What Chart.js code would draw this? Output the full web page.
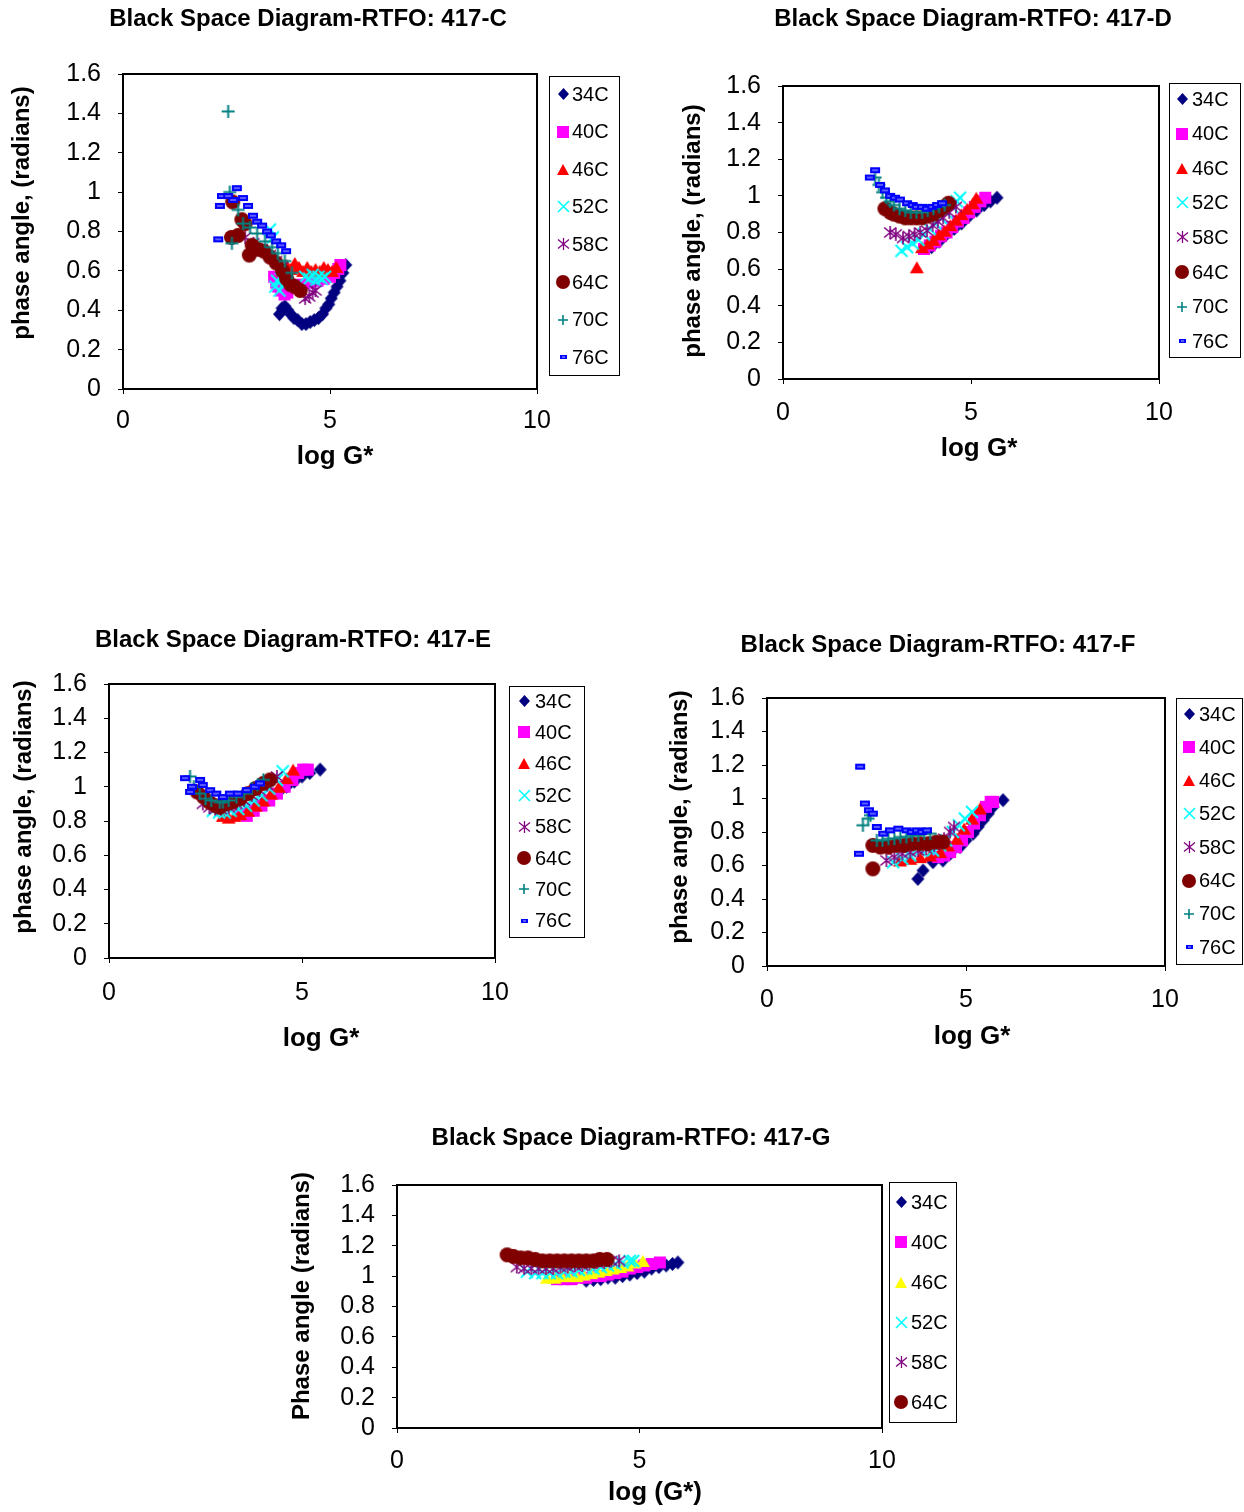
<!DOCTYPE html>
<html><head><meta charset="utf-8">
<script src="https://cdn.jsdelivr.net/npm/chart.js@4/dist/chart.umd.min.js"></script>
<style>
html,body{margin:0;padding:0;background:#fff;}
body{width:1244px;height:1512px;position:relative;overflow:hidden;}
canvas{position:absolute;}
</style></head><body>
<canvas id="cC" width="622" height="495" style="left:0px;top:0px"></canvas>
<canvas id="cD" width="622" height="495" style="left:622px;top:0px"></canvas>
<canvas id="cE" width="600" height="470" style="left:0px;top:600px"></canvas>
<canvas id="cF" width="644" height="470" style="left:600px;top:600px"></canvas>
<canvas id="cG" width="750" height="412" style="left:250px;top:1100px"></canvas>
<script>
// ---------- data ----------
const names8 = ['34C','40C','46C','52C','58C','64C','70C','76C'];
const names6 = ['34C','40C','46C','52C','58C','64C'];
const xTicks = [0,5,10];
const yTicks = [0,0.2,0.4,0.6,0.8,1,1.2,1.4,1.6];
const titles = ['Black Space Diagram-RTFO: 417-C','Black Space Diagram-RTFO: 417-D','Black Space Diagram-RTFO: 417-E','Black Space Diagram-RTFO: 417-F','Black Space Diagram-RTFO: 417-G'];

// 417-C
const C_34C = [[3.78,0.38],[3.84,0.41],[3.91,0.42],[3.98,0.40],[4.05,0.38],[4.13,0.36],[4.22,0.35],[4.32,0.33],[4.42,0.33],[4.52,0.34],[4.62,0.35],[4.72,0.36],[4.82,0.38],[4.9,0.41],[4.97,0.43],[5.03,0.46],[5.1,0.49],[5.17,0.52],[5.24,0.55],[5.31,0.59],[5.38,0.63]];
const C_40C = [[3.65,0.57],[3.7,0.54],[3.75,0.52],[3.82,0.5],[3.9,0.48],[3.97,0.49],[4.1,0.52],[4.3,0.53],[4.5,0.54],[4.7,0.55],[4.85,0.56],[5.0,0.57],[5.1,0.59],[5.2,0.61],[5.25,0.63]];
const C_46C = [[3.85,0.6],[3.95,0.63],[4.05,0.61],[4.15,0.64],[4.25,0.62],[4.35,0.6],[4.45,0.62],[4.55,0.6],[4.65,0.61],[4.75,0.6],[4.85,0.62],[4.95,0.61],[5.05,0.6],[5.15,0.62]];
const C_52C = [[3.55,0.81],[3.62,0.77],[3.68,0.52],[3.72,0.55],[3.78,0.5],[3.82,0.56],[3.88,0.53],[3.95,0.55],[4.4,0.57],[4.5,0.56],[4.58,0.58],[4.65,0.55],[4.72,0.57],[4.8,0.56],[4.88,0.57]];
const C_58C = [[2.95,0.77],[3.15,0.74],[3.35,0.71],[3.55,0.68],[3.7,0.65],[3.85,0.62],[4.4,0.46],[4.5,0.47],[4.58,0.49],[4.65,0.5]];
const C_64C = [[2.65,0.95],[2.62,0.77],[2.78,0.78],[2.87,0.86],[2.95,0.84],[3.05,0.68],[3.12,0.73],[3.25,0.71],[3.4,0.7],[3.55,0.67],[3.7,0.64],[3.85,0.6],[3.95,0.56],[4.05,0.53],[4.15,0.52],[4.28,0.5]];
const C_70C = [[2.54,1.41],[2.58,1.0],[2.78,0.91],[2.63,0.74],[2.9,0.84],[3.07,0.82],[3.24,0.79],[3.43,0.75],[3.6,0.72],[3.74,0.69],[3.91,0.65],[4.08,0.59]];
const C_76C = [[2.3,0.76],[2.34,0.93],[2.39,0.98],[2.54,0.98],[2.66,0.96],[2.75,1.02],[2.9,0.97],[3.02,0.93],[3.14,0.88],[3.24,0.85],[3.36,0.83],[3.48,0.8],[3.57,0.78],[3.7,0.75],[3.82,0.73],[3.94,0.7]];

// 417-D
const D_34C = [[3.95,0.72],[4.15,0.75],[4.35,0.79],[4.55,0.82],[4.75,0.85],[4.95,0.89],[5.15,0.92],[5.35,0.95],[5.52,0.97],[5.69,0.99]];
const D_40C = [[3.75,0.71],[3.9,0.73],[4.05,0.75],[4.2,0.78],[4.35,0.8],[4.5,0.83],[4.65,0.86],[4.8,0.88],[4.95,0.91],[5.1,0.94],[5.25,0.97],[5.38,0.99]];
const D_46C = [[3.56,0.61],[3.7,0.72],[3.85,0.74],[4.0,0.76],[4.15,0.79],[4.3,0.81],[4.45,0.84],[4.6,0.87],[4.75,0.9],[4.9,0.93],[5.05,0.96],[5.14,0.99]];
const D_52C = [[3.15,0.7],[3.3,0.72],[3.45,0.74],[3.6,0.76],[3.75,0.79],[3.9,0.82],[4.05,0.85],[4.2,0.88],[4.35,0.91],[4.5,0.94],[4.62,0.97],[4.71,0.99]];
const D_58C = [[2.85,0.8],[3.0,0.79],[3.19,0.77],[3.35,0.78],[3.5,0.79],[3.65,0.8],[3.83,0.81],[3.98,0.84],[4.12,0.86],[4.26,0.88],[4.42,0.91],[4.6,0.94]];
const D_64C = [[2.71,0.93],[2.85,0.91],[2.95,0.9],[3.1,0.89],[3.25,0.88],[3.4,0.88],[3.55,0.88],[3.7,0.88],[3.85,0.89],[4.0,0.9],[4.15,0.92],[4.28,0.94],[4.4,0.96]];
const D_70C = [[2.45,1.1],[2.55,1.06],[2.65,1.02],[2.75,0.99],[2.85,0.97],[2.95,0.95],[3.1,0.93],[3.25,0.92],[3.4,0.91],[3.55,0.91],[3.7,0.91],[3.85,0.92],[4.0,0.93],[4.15,0.94],[4.3,0.95]];
const D_76C = [[2.45,1.14],[2.31,1.1],[2.58,1.06],[2.71,1.03],[2.85,1.0],[2.98,0.99],[3.11,0.98],[3.3,0.96],[3.45,0.95],[3.56,0.94],[3.7,0.94],[3.83,0.93],[3.97,0.94],[4.1,0.95],[4.23,0.96]];

// 417-E
const E_34C = [[3.6,0.86],[3.8,0.88],[4.0,0.91],[4.2,0.94],[4.4,0.97],[4.6,1.0],[4.8,1.03],[5.0,1.06],[5.2,1.08],[5.47,1.1]];
const E_40C = [[3.4,0.84],[3.57,0.83],[3.75,0.86],[3.95,0.89],[4.15,0.92],[4.35,0.96],[4.55,1.0],[4.75,1.04],[4.9,1.08],[5.03,1.1],[5.15,1.1]];
const E_46C = [[2.95,0.83],[3.1,0.82],[3.25,0.83],[3.4,0.84],[3.6,0.86],[3.8,0.89],[4.0,0.92],[4.2,0.96],[4.4,1.0],[4.6,1.05],[4.77,1.1]];
const E_52C = [[2.69,0.86],[2.85,0.85],[3.0,0.85],[3.15,0.86],[3.35,0.87],[3.55,0.89],[3.75,0.92],[3.95,0.95],[4.15,0.99],[4.35,1.04],[4.5,1.09]];
const E_58C = [[2.43,0.9],[2.6,0.88],[2.75,0.87],[2.9,0.87],[3.1,0.88],[3.3,0.9],[3.5,0.92],[3.7,0.95],[3.9,0.98],[4.1,1.01],[4.35,1.06]];
const E_64C = [[2.28,0.97],[2.45,0.94],[2.6,0.91],[2.75,0.89],[2.87,0.88],[3.05,0.9],[3.2,0.91],[3.4,0.93],[3.6,0.96],[3.8,0.99],[4.0,1.02],[4.17,1.04]];
const E_70C = [[2.1,1.06],[2.2,1.0],[2.35,0.96],[2.5,0.93],[2.65,0.92],[2.87,0.91],[2.95,0.91],[3.1,0.92],[3.3,0.94],[3.5,0.96],[3.7,0.99],[3.85,1.01],[4.0,1.04]];
const E_76C = [[1.97,1.05],[2.1,0.97],[2.15,1.0],[2.36,1.04],[2.43,1.01],[2.62,0.98],[2.78,0.96],[2.95,0.94],[3.13,0.96],[3.34,0.96],[3.57,0.98],[3.78,1.0],[3.91,1.02]];

// 417-F
const F_34C = [[3.79,0.52],[3.92,0.57],[4.17,0.62],[4.42,0.63],[4.6,0.67],[4.85,0.71],[5.0,0.75],[5.18,0.79],[5.3,0.83],[5.43,0.87],[5.56,0.91],[5.68,0.95],[5.93,0.99]];
const F_40C = [[4.3,0.65],[4.45,0.66],[4.6,0.68],[4.75,0.71],[4.9,0.75],[5.05,0.8],[5.2,0.85],[5.35,0.9],[5.5,0.95],[5.62,0.98],[5.68,0.98]];
const F_46C = [[3.34,0.63],[3.6,0.64],[3.85,0.65],[4.1,0.66],[4.35,0.68],[4.55,0.72],[4.77,0.76],[4.95,0.82],[5.15,0.88],[5.35,0.94]];
const F_52C = [[3.17,0.62],[3.4,0.64],[3.6,0.66],[3.85,0.69],[4.05,0.7],[4.17,0.69],[4.35,0.72],[4.5,0.75],[4.67,0.8],[4.82,0.84],[4.97,0.88],[5.15,0.92]];
const F_58C = [[3.0,0.63],[3.2,0.65],[3.4,0.67],[3.6,0.68],[3.8,0.69],[4.0,0.7],[4.2,0.72],[4.45,0.76],[4.6,0.8],[4.7,0.83]];
const F_64C = [[2.66,0.58],[2.66,0.72],[2.85,0.71],[3.05,0.71],[3.25,0.72],[3.45,0.72],[3.65,0.73],[3.85,0.73],[4.05,0.73],[4.25,0.74],[4.42,0.74]];
const F_70C = [[2.41,0.84],[2.54,0.88],[2.6,0.9],[2.76,0.75],[2.9,0.75],[3.05,0.76],[3.2,0.76],[3.35,0.77],[3.5,0.77],[3.65,0.78],[3.8,0.78],[3.95,0.79],[4.1,0.79]];
const F_76C = [[2.34,1.19],[2.31,0.67],[2.46,0.97],[2.56,0.93],[2.66,0.91],[2.76,0.83],[2.92,0.79],[3.09,0.81],[3.3,0.82],[3.51,0.81],[3.64,0.8],[3.77,0.81],[3.9,0.8],[4.02,0.81]];

// 417-G
const G_34C = [[3.9,0.97],[4.05,0.975],[4.2,0.98],[4.35,0.99],[4.5,0.99],[4.65,1.0],[4.8,1.01],[4.95,1.02],[5.1,1.03],[5.25,1.05],[5.4,1.06],[5.55,1.07],[5.68,1.08],[5.79,1.09]];
const G_40C = [[3.3,0.98],[3.45,0.98],[3.6,0.98],[3.75,0.99],[3.9,0.99],[4.05,1.0],[4.2,1.0],[4.35,1.01],[4.5,1.02],[4.65,1.03],[4.8,1.05],[4.95,1.06],[5.1,1.07],[5.25,1.08],[5.42,1.09]];
const G_46C = [[3.09,0.99],[3.25,0.99],[3.4,1.0],[3.55,1.0],[3.7,1.0],[3.85,1.01],[4.0,1.02],[4.15,1.03],[4.3,1.04],[4.45,1.05],[4.6,1.06],[4.75,1.07],[4.9,1.09],[5.07,1.1]];
const G_52C = [[2.68,1.03],[2.85,1.02],[3.0,1.02],[3.15,1.02],[3.3,1.02],[3.45,1.03],[3.6,1.03],[3.75,1.04],[3.9,1.05],[4.05,1.05],[4.2,1.06],[4.35,1.07],[4.5,1.08],[4.65,1.09],[4.8,1.1],[4.87,1.1]];
const G_58C = [[2.47,1.06],[2.62,1.05],[2.77,1.05],[2.92,1.05],[3.07,1.05],[3.22,1.05],[3.37,1.06],[3.52,1.06],[3.67,1.07],[3.82,1.07],[3.97,1.08],[4.12,1.09],[4.27,1.09],[4.42,1.1],[4.58,1.1]];
const G_64C = [[2.27,1.14],[2.4,1.13],[2.55,1.12],[2.7,1.12],[2.85,1.11],[3.0,1.1],[3.15,1.1],[3.3,1.1],[3.45,1.1],[3.6,1.1],[3.75,1.1],[3.9,1.1],[4.05,1.1],[4.18,1.11],[4.33,1.11]];

// ---------- styles ----------
const FONT = '"Liberation Sans", Arial, Helvetica, sans-serif';
const COLORS8 = ['#000080','#ff00ff','#ff0000','#00ffff','#800080','#800000','#008080','#0000ff'];
const COLORS6 = ['#000080','#ff00ff','#ffff00','#00ffff','#800080','#800000'];
const KINDS = ['diamond','square','triangle','x','star','circle','plus','dash'];
const PLOT_SZ = {diamond:[13,14],square:[12,12],triangle:[14,12],x:[12,12],star:[12,13],circle:[15,15],plus:[13,13],dash:[10,6]};
const LEG_SZ = {diamond:[11,12],square:[12,12],triangle:[12,11],x:[11,11],star:[11,12],circle:[14,14],plus:[10,10],dash:[7,4]};

function makeMarker(kind, color, w, h, lw) {
  const pad = 2;
  const cv = document.createElement('canvas');
  cv.width = Math.ceil(w) + pad * 2; cv.height = Math.ceil(h) + pad * 2;
  const g = cv.getContext('2d');
  const cx = cv.width / 2, cy = cv.height / 2;
  g.fillStyle = color; g.strokeStyle = color; g.lineCap = 'butt';
  g.beginPath();
  switch (kind) {
    case 'diamond':
      g.moveTo(cx, cy - h/2); g.lineTo(cx + w/2, cy); g.lineTo(cx, cy + h/2); g.lineTo(cx - w/2, cy); g.closePath(); g.fill(); break;
    case 'square':
      g.fillRect(cx - w/2, cy - h/2, w, h); break;
    case 'triangle':
      g.moveTo(cx, cy - h/2); g.lineTo(cx + w/2, cy + h/2); g.lineTo(cx - w/2, cy + h/2); g.closePath(); g.fill(); break;
    case 'x':
      g.lineWidth = lw; g.moveTo(cx - w/2, cy - h/2); g.lineTo(cx + w/2, cy + h/2); g.moveTo(cx + w/2, cy - h/2); g.lineTo(cx - w/2, cy + h/2); g.stroke(); break;
    case 'star':
      g.lineWidth = lw * 0.8; g.moveTo(cx - w/2, cy - h/2 + 1.5); g.lineTo(cx + w/2, cy + h/2 - 1.5); g.moveTo(cx + w/2, cy - h/2 + 1.5); g.lineTo(cx - w/2, cy + h/2 - 1.5);
      g.moveTo(cx, cy - h/2); g.lineTo(cx, cy + h/2); g.stroke(); break;
    case 'circle':
      g.arc(cx, cy, w/2, 0, Math.PI * 2); g.fill(); break;
    case 'plus':
      g.lineWidth = lw; g.moveTo(cx - w/2, cy); g.lineTo(cx + w/2, cy); g.moveTo(cx, cy - h/2); g.lineTo(cx, cy + h/2); g.stroke(); break;
    case 'dash':
      g.fillStyle = color; g.fillRect(cx - w/2, cy - h/2, w, h);
      g.fillStyle = '#b8b8ff'; g.fillRect(cx - w/2 + 2, cy - 0.5, w - 4, 1); break;
  }
  return cv;
}

const YW = 60, XH = 50;

function buildChart(cfg) {
  const el = document.getElementById(cfg.id);
  const W = el.width, H = el.height;
  const A = cfg.area; // page coords
  const pad = {
    left: A.L - cfg.ox - YW,
    top: A.T - cfg.oy,
    right: cfg.ox + W - A.R,
    bottom: cfg.oy + H - A.B - XH
  };
  const n = cfg.names.length;
  const datasets = cfg.names.map((nm, i) => {
    const k = KINDS[i];
    const s = PLOT_SZ[k];
    return {
      label: nm,
      data: cfg.series[i].map(p => ({x: p[0], y: p[1]})),
      pointStyle: makeMarker(k, cfg.colors[i], s[0], s[1], 2),
      pointRadius: 6,
      pointHoverRadius: 6,
      order: n - i
    };
  });
  const legendImgs = cfg.names.map((nm, i) => {
    const k = KINDS[i]; const s = LEG_SZ[k];
    return makeMarker(k, cfg.colors[i], s[0], s[1], 1.6);
  });
  const ox = cfg.ox, oy = cfg.oy;
  const decor = {
    id: 'decor_' + cfg.id,
    afterDraw(chart) {
      const ctx = chart.ctx, a = chart.chartArea;
      ctx.save();
      ctx.strokeStyle = '#000'; ctx.lineWidth = 2;
      ctx.strokeRect(a.left, a.top, a.right - a.left, a.bottom - a.top);
      ctx.fillStyle = '#000';
      ctx.textAlign = 'center'; ctx.textBaseline = 'middle';
      ctx.font = 'bold 24px ' + FONT;
      ctx.fillText(cfg.title, cfg.titlePos[0] - ox, cfg.titlePos[1] - oy);
      ctx.font = 'bold 26px ' + FONT;
      ctx.fillText(cfg.xTitle, cfg.xTitlePos[0] - ox, cfg.xTitlePos[1] - oy);
      ctx.save();
      ctx.translate(cfg.yTitlePos[0] - ox, cfg.yTitlePos[1] - oy);
      ctx.rotate(-Math.PI / 2);
      ctx.font = 'bold 24px ' + FONT;
      ctx.fillText(cfg.yTitle, 0, 0);
      ctx.restore();
      // legend
      const L = cfg.legend;
      ctx.fillStyle = '#fff';
      ctx.fillRect(L.box[0] - ox, L.box[1] - oy, L.box[2] - L.box[0], L.box[3] - L.box[1]);
      ctx.strokeStyle = '#000'; ctx.lineWidth = 1;
      ctx.strokeRect(L.box[0] - ox + 0.5, L.box[1] - oy + 0.5, L.box[2] - L.box[0], L.box[3] - L.box[1]);
      ctx.font = '20px ' + FONT;
      ctx.textAlign = 'left'; ctx.fillStyle = '#000';
      cfg.names.forEach((nm, i) => {
        const yy = L.y0 + i * L.dy - oy;
        const img = legendImgs[i];
        ctx.drawImage(img, Math.round(L.mx - ox - img.width / 2), Math.round(yy - img.height / 2));
        ctx.fillText(nm, L.tx - ox, yy + 1);
      });
      ctx.restore();
    }
  };
  return new Chart(el, {
    type: 'scatter',
    data: {datasets},
    options: {
      responsive: false,
      animation: false,
      devicePixelRatio: 1,
      events: [],
      layout: {padding: pad},
      plugins: {legend: {display: false}, tooltip: {enabled: false}, title: {display: false}},
      scales: {
        x: {
          type: 'linear', position: 'bottom', min: 0, max: 10,
          afterBuildTicks: s => { s.ticks = xTicks.map(v => ({value: v})); },
          afterFit: s => { s.height = XH; },
          ticks: {color: '#000', font: {family: FONT, size: 25}, padding: cfg.xPad, callback: v => String(v), maxRotation: 0, autoSkip: false},
          grid: {drawOnChartArea: false, drawTicks: true, tickLength: 5, color: '#000', lineWidth: 1},
          border: {display: true, color: '#000', width: 2},
          title: {display: false}
        },
        y: {
          type: 'linear', position: 'left', min: 0, max: 1.6,
          afterBuildTicks: s => { s.ticks = yTicks.map(v => ({value: v})); },
          afterFit: s => { s.width = YW; },
          ticks: {color: '#000', font: {family: FONT, size: 25}, padding: 17, callback: v => String(v), autoSkip: false},
          grid: {drawOnChartArea: false, drawTicks: true, tickLength: 5, color: '#000', lineWidth: 1},
          border: {display: true, color: '#000', width: 2},
          title: {display: false}
        }
      }
    },
    plugins: [decor]
  });
}

buildChart({
  id: 'cC', ox: 0, oy: 0, area: {L: 123, T: 74, R: 537, B: 389}, xPad: 12,
  names: names8, colors: COLORS8,
  series: [C_34C, C_40C, C_46C, C_52C, C_58C, C_64C, C_70C, C_76C],
  title: titles[0], titlePos: [308, 19],
  xTitle: 'log G*', xTitlePos: [335, 457],
  yTitle: 'phase angle, (radians)', yTitlePos: [22, 213],
  legend: {box: [549, 76, 619, 375], y0: 94, dy: 37.6, mx: 563, tx: 572}
});
buildChart({
  id: 'cD', ox: 622, oy: 0, area: {L: 783, T: 86, R: 1159, B: 379}, xPad: 14,
  names: names8, colors: COLORS8,
  series: [D_34C, D_40C, D_46C, D_52C, D_58C, D_64C, D_70C, D_76C],
  title: titles[1], titlePos: [973, 19],
  xTitle: 'log G*', xTitlePos: [979, 449],
  yTitle: 'phase angle, (radians)', yTitlePos: [693, 231],
  legend: {box: [1169, 83, 1240, 357], y0: 99, dy: 34.6, mx: 1182, tx: 1192}
});
buildChart({
  id: 'cE', ox: 0, oy: 600, area: {L: 109, T: 684, R: 495, B: 958}, xPad: 15,
  names: names8, colors: COLORS8,
  series: [E_34C, E_40C, E_46C, E_52C, E_58C, E_64C, E_70C, E_76C],
  title: titles[2], titlePos: [293, 640],
  xTitle: 'log G*', xTitlePos: [321, 1039],
  yTitle: 'phase angle, (radians)', yTitlePos: [24, 807],
  legend: {box: [509, 686, 584, 937], y0: 701, dy: 31.4, mx: 524, tx: 535}
});
buildChart({
  id: 'cF', ox: 600, oy: 600, area: {L: 767, T: 698, R: 1165, B: 966}, xPad: 14,
  names: names8, colors: COLORS8,
  series: [F_34C, F_40C, F_46C, F_52C, F_58C, F_64C, F_70C, F_76C],
  title: titles[3], titlePos: [938, 645],
  xTitle: 'log G*', xTitlePos: [972, 1037],
  yTitle: 'phase angle, (radians)', yTitlePos: [680, 817],
  legend: {box: [1176, 698, 1242, 964], y0: 714, dy: 33.3, mx: 1189, tx: 1199}
});
buildChart({
  id: 'cG', ox: 250, oy: 1100, area: {L: 397, T: 1185, R: 882, B: 1428}, xPad: 13,
  names: names6, colors: COLORS6,
  series: [G_34C, G_40C, G_46C, G_52C, G_58C, G_64C],
  title: titles[4], titlePos: [631, 1138],
  xTitle: 'log (G*)', xTitlePos: [655, 1493],
  yTitle: 'Phase angle (radians)', yTitlePos: [302, 1296],
  legend: {box: [889, 1182, 956, 1422], y0: 1202, dy: 40, mx: 901, tx: 911}
});
</script>
</body></html>
